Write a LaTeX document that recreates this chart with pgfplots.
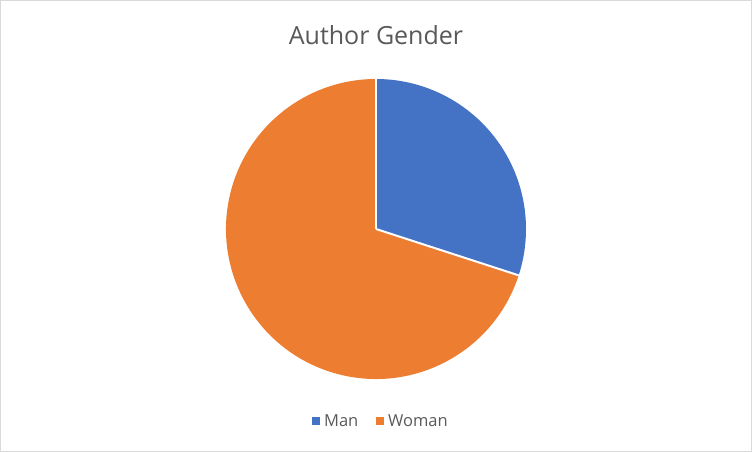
\documentclass[border=0pt]{standalone}
\usepackage{pgfplots}
\pgfplotsset{compat=1.18}
\usepackage{pgfplotstable}
\usepackage{fontspec}
\setmainfont{Open Sans}
\definecolor{manc}{HTML}{4472C4}
\definecolor{womanc}{HTML}{ED7D31}
\definecolor{txt}{HTML}{595959}
\definecolor{frame}{HTML}{D9D9D9}
\pgfplotstableread{
label value
Man 30
Woman 70
}\piedata
\pgfplotstablegetelem{0}{value}\of\piedata
\edef\vman{\pgfplotsretval}
\pgfplotstablegetelem{1}{value}\of\piedata
\edef\vwoman{\pgfplotsretval}
\begin{document}
\begin{tikzpicture}
\begin{axis}[x=1pt,y=1pt,xmin=0,xmax=752,ymin=0,ymax=452,hide axis,clip=false,
  legend columns=2,
  legend style={at={(axis cs:381,31)},anchor=center,draw=none,fill=none,
    font=\fontsize{16.5}{19}\selectfont,text=txt,
    /tikz/every even column/.append style={column sep=16pt}},
  legend image code/.code={\fill[#1] (0pt,-3.5pt) rectangle (7pt,3.5pt); \path (9.5pt,0pt);}]
\draw[frame,line width=1pt] (axis cs:0.5,0.5) rectangle (axis cs:751.5,451.5);
\addlegendimage{manc,fill=manc}
\addlegendentry{Man}
\addlegendimage{womanc,fill=womanc}
\addlegendentry{Woman}
\fill[womanc] (axis cs:376,223) -- ++({90-3.6*\vman}:150pt) arc[start angle={90-3.6*\vman}, end angle=-270, radius=150pt] -- cycle;
\fill[manc] (axis cs:376,223) -- ++(90:150pt) arc[start angle=90, end angle={90-3.6*\vman}, radius=150pt] -- cycle;
\draw[white,line width=2pt] (axis cs:376,223) -- ++(90:150pt);
\draw[white,line width=2pt] (axis cs:376,223) -- ++({90-3.6*\vman}:150pt);
\node[anchor=base,font=\fontsize{25}{30}\selectfont,text=txt] at (axis cs:376,407) {Author Gender};
\end{axis}
\end{tikzpicture}
\end{document}
